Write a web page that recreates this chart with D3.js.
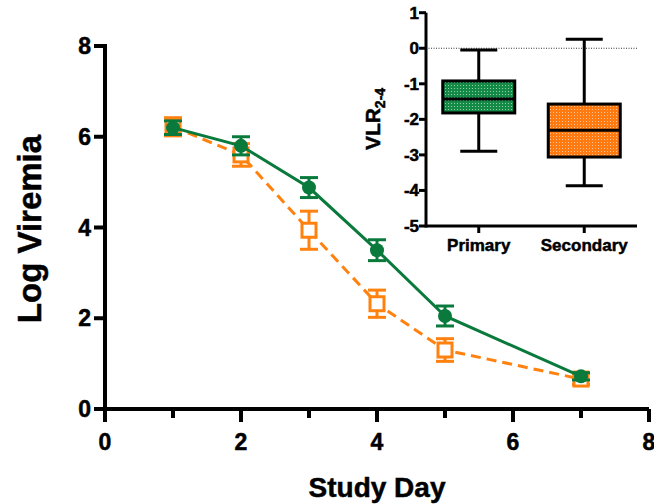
<!DOCTYPE html>
<html lang="en">
<head>
    <meta charset="UTF-8">
    <title>Log Viremia</title>
    <script src="https://d3js.org/d3.v7.min.js"></script>
    <style>
        body { margin: 0; background: #fff; }
        text {
            font-family: 'Liberation Sans', Arial, sans-serif;
            font-weight: bold;
            fill: #000;
            stroke: #000;
            stroke-width: 0.5px;
        }
    </style>
</head>
<body>

<script>
    const width  = 654;
    const height = 504;

    const green  = "#0a7a3c";
    const orange = "#ff8210";

    // main chart data
    const days          = [1, 2, 3, 4, 5, 7];
    const primaryMean   = [6.20, 5.80, 4.88, 3.50, 2.05, 0.72];
    const primaryErr    = [0.15, 0.20, 0.22, 0.23, 0.22, 0.08];
    const secondaryMean = [6.22, 5.60, 3.94, 2.32, 1.30, 0.66];
    const secondaryErr  = [0.20, 0.25, 0.42, 0.30, 0.25, 0.12];
    const xTicks = [0, 1, 2, 3, 4, 5, 6, 7, 8];
    const yTicks = [0, 2, 4, 6, 8];

    // inset box plot data
    const groups   = ["Primary", "Secondary"];
    const whiskLo  = [-2.90, -3.87];
    const q1       = [-1.82, -3.06];
    const median   = [-1.43, -2.31];
    const q3       = [-0.92, -1.57];
    const whiskHi  = [-0.05, 0.25];
    const insetTicks = [1, 0, -1, -2, -3, -4, -5];

    const svg = d3.select("body")
                  .append("svg").attr("width", width).attr("height", height);

    const defs = svg.append("defs");
    [["dotsGreen", "#138a45"], ["dotsOrange", "#ff7b12"]].forEach(([id, c]) => {
        const p = defs.append("pattern").attr("id", id)
                      .attr("width", 3).attr("height", 3)
                      .attr("patternUnits", "userSpaceOnUse");
        p.append("rect").attr("width", 3).attr("height", 3).attr("fill", c);
        p.append("rect").attr("x", 1).attr("y", 1).attr("width", 1).attr("height", 1)
         .attr("fill", "#fff").attr("fill-opacity", 0.55);
    });

    // ---------- main chart ----------
    const x = d3.scaleLinear().domain([0, 8]).range([105, 649]);
    const y = d3.scaleLinear().domain([0, 8]).range([409, 46]);

    const main = svg.append("g");

    // axes
    main.append("line")
        .attr("x1", x(0)).attr("x2", x(8)).attr("y1", y(0)).attr("y2", y(0))
        .attr("stroke", "#000").attr("stroke-width", 4);
    main.append("line")
        .attr("x1", x(0)).attr("x2", x(0)).attr("y1", y(0) + 2).attr("y2", y(8) - 2)
        .attr("stroke", "#000").attr("stroke-width", 4);

    main.selectAll(".xt").data(xTicks).join("line")
        .attr("x1", d => x(d)).attr("x2", d => x(d))
        .attr("y1", y(0)).attr("y2", d => y(0) + (d % 2 === 0 ? 13 : 9))
        .attr("stroke", "#000").attr("stroke-width", 4);
    main.selectAll(".xl").data(xTicks.filter(d => d % 2 === 0)).join("text")
        .attr("x", d => x(d)).attr("y", 450)
        .attr("text-anchor", "middle").attr("font-size", 23)
        .text(d => d);

    main.selectAll(".yt").data(yTicks).join("line")
        .attr("x1", x(0) - 11).attr("x2", x(0))
        .attr("y1", d => y(d)).attr("y2", d => y(d))
        .attr("stroke", "#000").attr("stroke-width", 4);
    main.selectAll(".yl").data(yTicks).join("text")
        .attr("x", 91).attr("y", d => y(d) + 8)
        .attr("text-anchor", "end").attr("font-size", 23)
        .text(d => d);

    main.append("text")
        .attr("x", x(4)).attr("y", 497)
        .attr("text-anchor", "middle").attr("font-size", 28)
        .text("Study Day");
    main.append("text")
        .attr("transform", "translate(41,229) rotate(-90)")
        .attr("text-anchor", "middle").attr("font-size", 33)
        .text("Log Viremia");

    function series(mean, err, color, dashed, marker) {
        const pts = days.map((d, i) => ({day: d, m: mean[i], e: err[i]}));
        const g = main.append("g");
        g.append("path").datum(pts)
         .attr("d", d3.line().x(d => x(d.day)).y(d => y(d.m)))
         .attr("fill", "none").attr("stroke", color).attr("stroke-width", 3)
         .attr("stroke-dasharray", dashed ? "10,6" : null);
        const eb = g.selectAll(".eb").data(pts).join("g");
        eb.append("line")
          .attr("x1", d => x(d.day)).attr("x2", d => x(d.day))
          .attr("y1", d => y(d.m - d.e)).attr("y2", d => y(d.m + d.e))
          .attr("stroke", color).attr("stroke-width", 3);
        [-1, 1].forEach(s => {
            eb.append("line")
              .attr("x1", d => x(d.day) - 9).attr("x2", d => x(d.day) + 9)
              .attr("y1", d => y(d.m + s * d.e)).attr("y2", d => y(d.m + s * d.e))
              .attr("stroke", color).attr("stroke-width", 3);
        });
        if (marker === "square") {
            g.selectAll(".mk").data(pts).join("rect")
             .attr("x", d => x(d.day) - 7).attr("y", d => y(d.m) - 7)
             .attr("width", 14).attr("height", 14)
             .attr("fill", "#fff").attr("stroke", color).attr("stroke-width", 3);
        } else {
            g.selectAll(".mk").data(pts).join("circle")
             .attr("cx", d => x(d.day)).attr("cy", d => y(d.m)).attr("r", 7)
             .attr("fill", color);
        }
    }

    series(secondaryMean, secondaryErr, orange, true, "square");
    series(primaryMean, primaryErr, green, false, "circle");

    // ---------- inset ----------
    const ix = d3.scalePoint().domain(groups).range([426, 637]).padding(0.5);
    const iy = d3.scaleLinear().domain([-5, 1]).range([226, 12.7]);
    const inset = svg.append("g");

    inset.append("line")
         .attr("x1", ix.range()[0]).attr("x2", ix.range()[1])
         .attr("y1", iy(0)).attr("y2", iy(0))
         .attr("stroke", "#000").attr("stroke-width", 0.8)
         .attr("stroke-dasharray", "1,1.5");

    inset.append("line")
         .attr("x1", 426).attr("x2", 426).attr("y1", iy(-5) + 1.5).attr("y2", iy(1))
         .attr("stroke", "#000").attr("stroke-width", 3);
    inset.append("line")
         .attr("x1", 426).attr("x2", 637).attr("y1", iy(-5)).attr("y2", iy(-5))
         .attr("stroke", "#000").attr("stroke-width", 3);
    inset.selectAll(".it").data(insetTicks).join("line")
         .attr("x1", 419).attr("x2", 426).attr("y1", d => iy(d)).attr("y2", d => iy(d))
         .attr("stroke", "#000").attr("stroke-width", 3);
    inset.selectAll(".il").data(insetTicks).join("text")
         .attr("x", 419).attr("y", d => iy(d) + 6)
         .attr("text-anchor", "end").attr("font-size", 17)
         .text(d => String(d));
    inset.selectAll(".ct").data(groups).join("line")
         .attr("x1", d => ix(d)).attr("x2", d => ix(d))
         .attr("y1", iy(-5)).attr("y2", iy(-5) + 7)
         .attr("stroke", "#000").attr("stroke-width", 3);
    inset.selectAll(".cl").data(groups).join("text")
         .attr("x", d => ix(d)).attr("y", 251)
         .attr("text-anchor", "middle").attr("font-size", 17)
         .text(d => d);

    const vl = inset.append("text")
         .attr("transform", "translate(380,119) rotate(-90)")
         .attr("text-anchor", "middle").attr("font-size", 21);
    vl.append("tspan").text("VLR");
    vl.append("tspan").attr("font-size", 14).attr("dy", 5).text("2-4");

    const boxW = 72, capW = 37;
    const fills = ["url(#dotsGreen)", "url(#dotsOrange)"];
    groups.forEach((gname, i) => {
        const cx = ix(gname);
        const b = inset.append("g");
        b.append("line").attr("x1", cx).attr("x2", cx)
         .attr("y1", iy(whiskLo[i])).attr("y2", iy(whiskHi[i]))
         .attr("stroke", "#000").attr("stroke-width", 3);
        [whiskLo[i], whiskHi[i]].forEach(v => {
            b.append("line").attr("x1", cx - capW / 2).attr("x2", cx + capW / 2)
             .attr("y1", iy(v)).attr("y2", iy(v))
             .attr("stroke", "#000").attr("stroke-width", 3);
        });
        b.append("rect")
         .attr("x", cx - boxW / 2).attr("y", iy(q3[i]))
         .attr("width", boxW).attr("height", iy(q1[i]) - iy(q3[i]))
         .attr("fill", fills[i]).attr("stroke", "#000").attr("stroke-width", 3);
        b.append("line").attr("x1", cx - boxW / 2).attr("x2", cx + boxW / 2)
         .attr("y1", iy(median[i])).attr("y2", iy(median[i]))
         .attr("stroke", "#000").attr("stroke-width", 3);
    });
</script>

</body>
</html>
